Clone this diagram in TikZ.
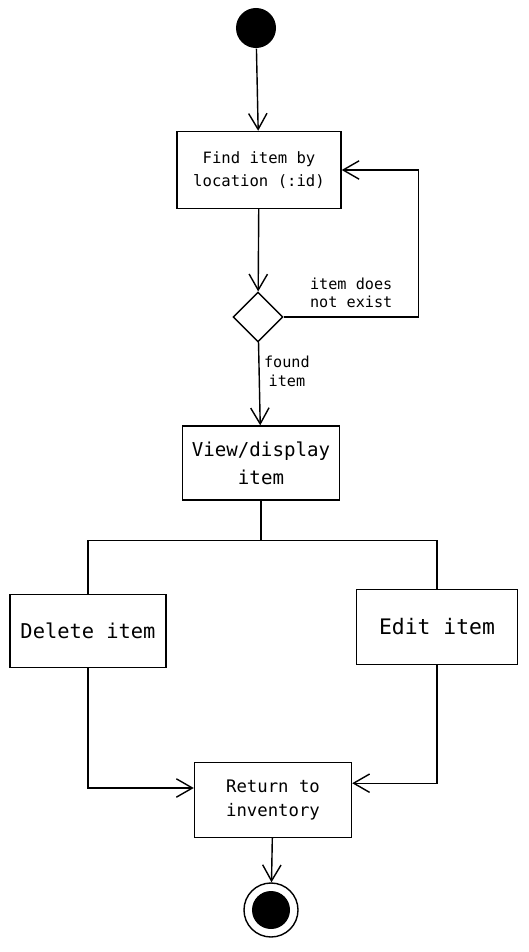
\documentclass[tikz,border=0pt]{standalone}
\usepackage{fontspec}
\setmonofont{DejaVu Sans Mono}
\usetikzlibrary{arrows.meta,positioning,shapes.geometric}

\begin{document}
\begin{tikzpicture}[
            x=0.025cm, y=-0.025cm,
            line width=1pt,
            actbox/.style = {rectangle, draw, fill=white, align=center, font=\ttfamily},
            flow/.style = {-{Straight Barb[length=4mm, width=4.6mm]}},
            note/.style = {align=center, font=\ttfamily\fontsize{10.8}{13}\selectfont, inner sep=1pt}
        ]
        \useasboundingbox (0,0) rectangle (528,952);

        % Inicio y fin
        \node [circle, fill=black, minimum size=1cm, inner sep=0pt] (start) at (256,28) {};
        \node [circle, draw, minimum size=1.35cm, inner sep=0pt] (stop) at (271,910) {};
        \node [circle, fill=black, minimum size=0.95cm, inner sep=0pt] (stopdot) at (stop) {};

        % Actividades
        \node [actbox, minimum width=4.1cm, minimum height=1.925cm, font=\ttfamily\fontsize{11.1}{16}\selectfont] (find) at (259,170) {Find item by\\location (:id)};
        \node [diamond, draw, aspect=1, minimum width=1.25cm, minimum height=1.25cm, inner sep=0pt] (check) at (258,317) {};
        \node [actbox, minimum width=3.925cm, minimum height=1.85cm, font=\ttfamily\fontsize{13.6}{20}\selectfont] (view) at (261,463) {View/display\\item};
        \node [actbox, minimum width=3.9cm, minimum height=1.825cm, font=\ttfamily\fontsize{14.5}{18}\selectfont] (delete) at (88,631) {Delete item};
        \node [actbox, minimum width=4.025cm, minimum height=1.875cm, font=\ttfamily\fontsize{15.2}{18}\selectfont] (edit) at (437,627) {Edit item};
        \node [actbox, minimum width=3.925cm, minimum height=1.875cm, font=\ttfamily\fontsize{12.3}{17}\selectfont] (return) at (273,800) {Return to\\inventory};

        % Flechas de flujo
        \draw [flow] (start) -- (find);
        \draw [flow] (find) -- (check);
        \draw [flow] (check) -- node[note, right=2pt, pos=0.35] {found\\item} (view);
        \draw [flow] (check.east) -- node[note, above=5pt] {item does\\not exist} ++(135,0) |- (find.east);

        % Bifurcacion
        \draw (view.south) -- ++(0,40) coordinate (split) -| (delete.north);
        \draw (split) -| (edit.north);

        % Union
        \draw [flow] (delete.south) |- ([yshift=0.3cm]return.west);
        \draw [flow] (edit.south) |- ([yshift=0.42cm]return.east);
        \draw [flow] (return) -- (stop);

    \end{tikzpicture}
\end{document}
